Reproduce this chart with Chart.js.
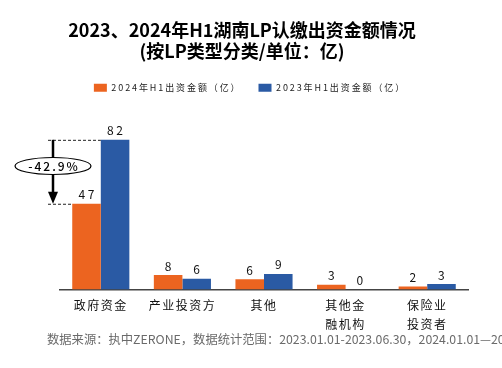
<!DOCTYPE html>
<html>
<head>
<meta charset="utf-8">
<script src="https://cdn.jsdelivr.net/npm/chart.js@4.4.0/dist/chart.umd.min.js"></script>
<style>
html,body{margin:0;padding:0;background:#fff;}
#wrap{width:502px;height:368px;position:relative;}
</style>
</head>
<body>
<div id="wrap"><canvas id="c" width="502" height="368"></canvas></div>
<script>
const categories = [['政府资金'], ['产业投资方'], ['其他'], ['其他金', '融机构'], ['保险业', '投资者']];
const series2024 = [47, 8, 5.6, 2.6, 1.7];
const series2023 = [82, 6, 8.6, 0, 3.1];
const seriesNames = ['2024年H1出资金额（亿）', '2023年H1出资金额（亿）'];
const titleLines = ['2023、2024年H1湖南LP认缴出资金额情况', '(按LP类型分类/单位：亿)'];
const changeLabel = '-42.9%';
const footnote = '数据来源：执中ZERONE，数据统计范围：2023.01.01-2023.06.30，2024.01.01—2024.06.30';

const ORANGE = '#EC6420';
const BLUE = '#2A5AA4';
const FONT = '"Noto Sans CJK SC", "Noto Sans", sans-serif';

function withSpacing(ctx, sp, fn) {
  const prev = ctx.letterSpacing;
  ctx.letterSpacing = sp;
  try { return fn(); } finally { ctx.letterSpacing = prev || '0px'; }
}

const spacingPlugin = {
  id: 'spacing',
  beforeLayout(chart) {
    if (chart.legend && !chart.legend._wrapped) {
      const lg = chart.legend;
      const of = lg.fit, od = lg.draw;
      lg.fit = function() { return withSpacing(chart.ctx, '1.9px', () => of.apply(this, arguments)); };
      lg.draw = function() {
        const ctx = chart.ctx;
        ctx.save();
        ctx.translate(16, 0);
        withSpacing(ctx, '1.9px', () => od.apply(this, arguments));
        ctx.restore();
      };
      lg._wrapped = true;
    }
    if (chart.titleBlock && !chart.titleBlock._wrapped) {
      const tb = chart.titleBlock;
      const od = tb.draw;
      tb.draw = function() {
        chart.ctx.save();
        chart.ctx.translate(8, 0);
        od.apply(this, arguments);
        chart.ctx.restore();
      };
      tb._wrapped = true;
    }
  },
  beforeDraw(chart) {
    const xs = chart.scales.x;
    if (xs && !xs._wrapped) {
      const od = xs.drawLabels;
      xs.drawLabels = function() { return withSpacing(chart.ctx, '1.5px', () => od.apply(this, arguments)); };
      xs._wrapped = true;
    }
  }
};

const labelPlugin = {
  id: 'labels',
  afterDatasetsDraw(chart) {
    const ctx = chart.ctx;
    ctx.save();
    ctx.font = '12px ' + FONT;
    ctx.fillStyle = '#111';
    ctx.textAlign = 'center';
    ctx.textBaseline = 'middle';
    ctx.letterSpacing = '2.5px';
    chart.data.datasets.forEach((ds, di) => {
      const meta = chart.getDatasetMeta(di);
      meta.data.forEach((bar, i) => {
        const v = Math.round(ds.data[i]);
        ctx.fillText(String(v), bar.x + 1.2, bar.y - 9);
      });
    });
    ctx.restore();
  },
  afterDraw(chart) {
    const ctx = chart.ctx;
    const m0 = chart.getDatasetMeta(0).data[0];
    const m1 = chart.getDatasetMeta(1).data[0];
    const yTop = m1.y, yBot = m0.y;
    const ax = 53;
    ctx.save();
    ctx.strokeStyle = '#222';
    ctx.lineWidth = 1;
    ctx.setLineDash([3, 2]);
    ctx.beginPath();
    ctx.moveTo(48, yTop + 0.5); ctx.lineTo(m1.x - m1.width / 2, yTop + 0.5);
    ctx.moveTo(48, yBot + 0.5); ctx.lineTo(m0.x - m0.width / 2, yBot + 0.5);
    ctx.stroke();
    ctx.setLineDash([]);
    ctx.strokeStyle = '#000';
    ctx.lineWidth = 2.5;
    ctx.beginPath();
    ctx.moveTo(ax, yTop);
    ctx.lineTo(ax, yBot - 10);
    ctx.stroke();
    ctx.fillStyle = '#000';
    ctx.beginPath();
    ctx.moveTo(ax - 5, yBot - 12);
    ctx.lineTo(ax + 5, yBot - 12);
    ctx.lineTo(ax, yBot);
    ctx.closePath();
    ctx.fill();
    const cy = 166;
    ctx.fillStyle = '#fff';
    ctx.strokeStyle = '#000';
    ctx.lineWidth = 1.2;
    ctx.beginPath();
    ctx.ellipse(ax, cy, 38, 8.5, 0, 0, Math.PI * 2);
    ctx.fill();
    ctx.stroke();
    ctx.fillStyle = '#000';
    ctx.font = '500 12px ' + FONT;
    ctx.textAlign = 'center';
    ctx.textBaseline = 'middle';
    ctx.letterSpacing = '2px';
    ctx.fillText(changeLabel, ax + 1, cy);
    ctx.letterSpacing = '0px';
    ctx.fillStyle = '#6a6a6a';
    ctx.font = '12.3px ' + FONT;
    ctx.textAlign = 'left';
    ctx.fillText(footnote, 47, 339);
    ctx.restore();
  }
};

new Chart(document.getElementById('c'), {
  type: 'bar',
  data: {
    labels: categories,
    datasets: [
      { label: seriesNames[0], data: series2024, backgroundColor: ORANGE, borderWidth: 0 },
      { label: seriesNames[1], data: series2023, backgroundColor: BLUE, borderWidth: 0 }
    ]
  },
  options: {
    responsive: false,
    animation: false,
    devicePixelRatio: 1,
    layout: { padding: { top: 19, right: 34, bottom: 28, left: 0 } },
    categoryPercentage: 0.7,
    barPercentage: 1.0,
    plugins: {
      title: {
        display: true,
        text: titleLines,
        color: '#000',
        font: { family: FONT, size: 18, weight: 'bold', lineHeight: 1.2 },
        padding: { top: 0, bottom: 4 }
      },
      legend: {
        display: true,
        labels: {
          boxWidth: 13, boxHeight: 8, padding: 17,
          color: '#222',
          font: { family: FONT, size: 9 }
        }
      },
      tooltip: { enabled: false }
    },
    scales: {
      x: {
        grid: { display: false, drawTicks: false },
        border: { display: true, color: '#444', width: 1.5 },
        ticks: { color: '#111', font: { family: FONT, size: 12, lineHeight: 1.6 }, padding: 6, maxRotation: 0, autoSkip: false }
      },
      y: {
        min: 0, max: 102.6,
        display: true,
        afterFit(s) { s.width = 60; },
        grid: { display: false, drawTicks: false },
        border: { display: false },
        ticks: { display: false }
      }
    }
  },
  plugins: [spacingPlugin, labelPlugin]
});
</script>
</body>
</html>
